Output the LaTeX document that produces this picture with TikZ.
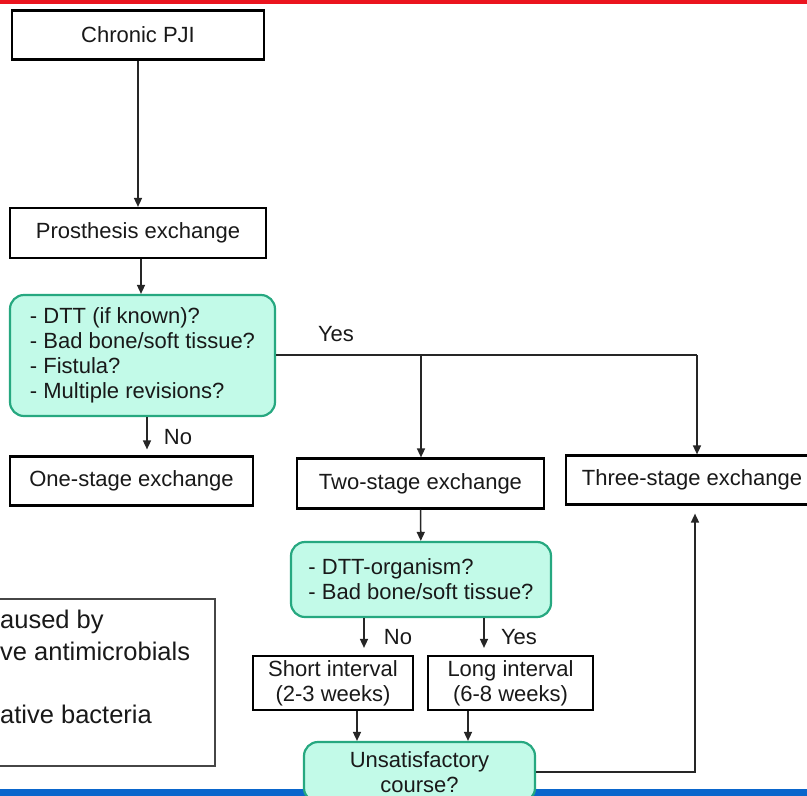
\documentclass[tikz,border=0pt]{standalone}
\usepackage{fontspec}
\setmainfont{Liberation Sans}
\usetikzlibrary{arrows.meta,calc}
\definecolor{mintfill}{RGB}{194,250,232}
\definecolor{mintdraw}{RGB}{38,168,128}
\definecolor{topred}{RGB}{235,20,30}
\definecolor{botblue}{RGB}{10,102,204}
\definecolor{greyline}{RGB}{70,70,70}
\begin{document}
\begin{tikzpicture}[x=1pt,y=-1pt,
  every node/.style={font=\fontsize{22}{25}\selectfont, text=black!90},
  plainbox/.style={draw=black, line width=2.2pt, inner sep=0pt},
  greenbox/.style={draw=mintdraw, fill=mintfill, line width=2.2pt, rounded corners=14pt, inner sep=0pt},
  conn/.style={draw=black!85, line width=1.5pt},
  arr/.style={conn, -{Triangle[width=8pt,length=9pt]}},
  lbl/.style={inner sep=0pt},
  sidetxt/.style={inner sep=0pt, anchor=west, font=\fontsize{25.5}{29}\selectfont}
]
\useasboundingbox (0,0) rectangle (807,796);
\begin{scope}
\clip (0,0) rectangle (807,796);
\fill[white] (0,0) rectangle (807,796);
% bottom band (behind the last box)
\fill[botblue] (0,789) rectangle (807,796);

% nodes
\node[plainbox, minimum width=252pt, minimum height=49pt] (pji) at (138,35) {Chronic PJI};
\node[plainbox, minimum width=256pt, minimum height=50pt] (pex) at (138,233) {Prosthesis exchange};
\node[greenbox, minimum width=265pt, minimum height=121pt, align=left] (g1) at (142.5,355.5)
  {- DTT (if known)?\\- Bad bone/soft tissue?\\- Fistula?\\- Multiple revisions?};
\node[plainbox, minimum width=243pt, minimum height=49pt] (one) at (131.5,481) {One-stage exchange};
\node[plainbox, minimum width=247pt, minimum height=50pt] (two) at (420.5,483.5) {Two-stage exchange};
\node[plainbox, minimum width=252pt, minimum height=49pt] (three) at (692,480) {Three-stage exchange};
\node[greenbox, minimum width=260pt, minimum height=75pt, align=left] (g2) at (421,579.5)
  {- DTT-organism?\\- Bad bone/soft tissue?};
\node[plainbox, minimum width=160pt, minimum height=54pt, align=center] (short) at (333,683)
  {Short interval\\(2-3 weeks)};
\node[plainbox, minimum width=165pt, minimum height=54pt, align=center] (long) at (510.5,683)
  {Long interval\\(6-8 weeks)};
\node[greenbox, minimum width=231pt, minimum height=60pt, align=center] (uns) at (419.5,772)
  {\fontsize{22}{23.5}\selectfont Unsatisfactory\\course?};

% partial left box
\draw[greyline, line width=1.5pt] (-5,599) rectangle (215,766);
\node[sidetxt] (t1) at (0,622) {aused by};
\node[sidetxt] (t2) at (0,651) {ve antimicrobials};
\node[sidetxt] (t3) at (0,714) {ative bacteria};

% connectors
\draw[arr] (pji) -- (pex);
\coordinate (px) at (141,0);
\draw[arr] (pex.south -| px) -- (g1.north -| px);

\coordinate (yesR) at (697,355);
\coordinate (yesM) at (421,355);
\draw[conn] (g1.east |- yesR) -- (yesR);
\draw[arr] (yesM) -- (yesM |- two.north);
\draw[arr] (yesR) -- (yesR |- three.north);
\node[lbl] (yes1) at (336,334) {Yes};

\coordinate (nox) at (147,0);
\draw[arr, shorten >=6pt] (g1.south -| nox) -- (one.north -| nox);
\node[lbl] (no1) at (178,437) {No};

\draw[arr] (two) -- (g2);

\coordinate (n2) at (364,0);
\coordinate (y2) at (484,0);
\draw[arr, shorten >=7pt] (g2.south -| n2) -- (short.north -| n2);
\draw[arr, shorten >=7pt] (g2.south -| y2) -- (long.north -| y2);
\node[lbl] (no2) at (398,637) {No};
\node[lbl] (yes2) at (519,637) {Yes};

\coordinate (s3) at (357,0);
\coordinate (l3) at (468,0);
\draw[arr] (short.south -| s3) -- (uns.north -| s3);
\draw[arr] (long.south -| l3) -- (uns.north -| l3);

\coordinate (ux) at (0,772);
\coordinate (r3) at (695,0);
\draw[arr, shorten >=8pt] (uns.east |- ux) -| (three.south -| r3);

% top band
\fill[topred] (0,0) rectangle (807,4);
\end{scope}
\end{tikzpicture}
\end{document}
